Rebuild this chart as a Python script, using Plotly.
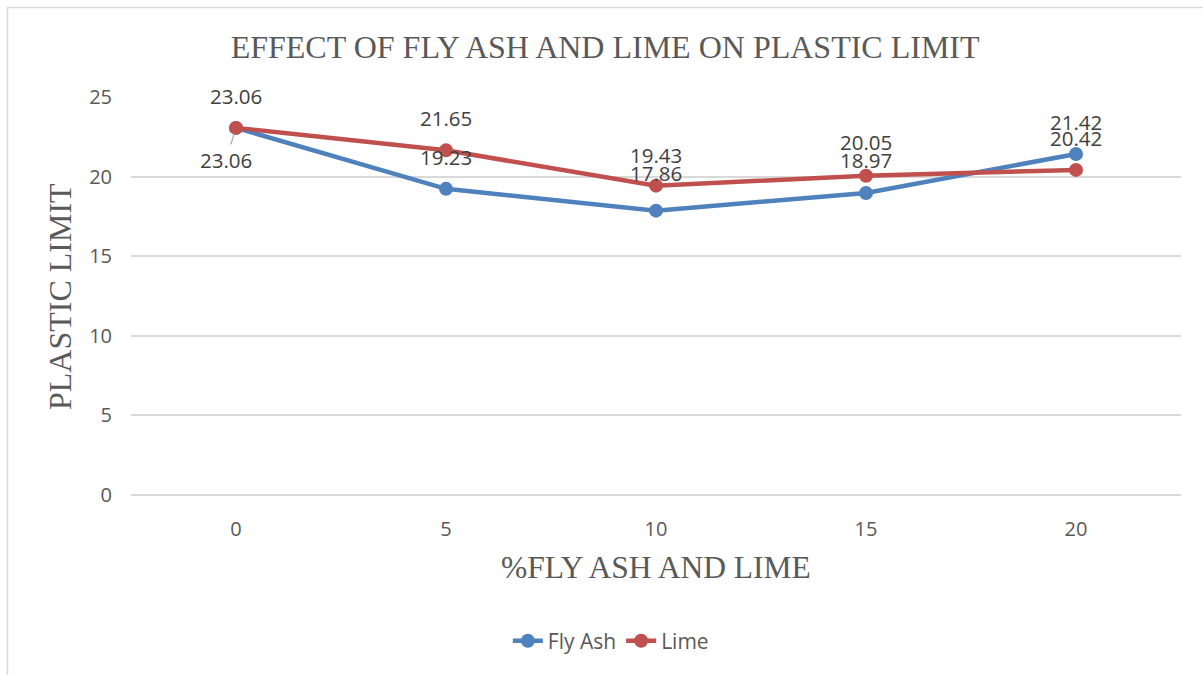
import plotly.graph_objects as go

# Percentage of additive (%)
additive_pct = [0, 5, 10, 15, 20]

# Plastic limit for each additive
fly_ash = [23.06, 19.23, 17.86, 18.97, 21.42]
lime = [23.06, 21.65, 19.43, 20.05, 20.42]

y_ticks = [0, 5, 10, 15, 20, 25]

BLUE = "#4F81BD"
RED = "#C0504D"
GRID = "#D9D9D9"
TICK_FONT = dict(family="Open Sans", size=20, color="#595959")
LABEL_FONT = dict(family="Open Sans", size=20.5, color="#404040")
SERIF = "Liberation Serif"

# Pixel offsets of each value label relative to its point (dx, dy; +dy = below)
fly_offsets = [(-10, 32), (0, -32), (0, -38), (0, -33), (0, -32)]
lime_offsets = [(0, -32), (0, -32), (0, -31), (0, -34), (0, -32)]

fig = go.Figure()
for name, vals, color in [("Fly Ash", fly_ash, BLUE), ("Lime", lime, RED)]:
    fig.add_trace(go.Scatter(
        x=additive_pct, y=vals, name=name, mode="lines+markers",
        line=dict(color=color, width=4.5),
        marker=dict(color=color, size=14),
    ))

annotations = []
for vals, offs in [(fly_ash, fly_offsets), (lime, lime_offsets)]:
    for x, v, (dx, dy) in zip(additive_pct, vals, offs):
        if dy > 0:
            # label placed below-left with a leader line back to the point
            annotations.append(dict(
                x=x, y=v, xref="x", yref="y", text=f"{v:.2f}",
                showarrow=True, arrowhead=0, arrowwidth=1.2,
                arrowcolor="#A6A6A6", ax=dx, ay=dy, standoff=6,
                font=LABEL_FONT,
            ))
        else:
            annotations.append(dict(
                x=x, y=v, xref="x", yref="y", text=f"{v:.2f}",
                showarrow=False, xshift=dx, yshift=-dy,
                font=LABEL_FONT,
            ))

# Axis titles
annotations.append(dict(
    text="%FLY ASH AND LIME", xref="paper", yref="paper",
    x=0.5, y=-0.1834, xanchor="center", yanchor="middle", showarrow=False,
    font=dict(family=SERIF, size=31.5, color="#595959"),
))
annotations.append(dict(
    text="PLASTIC LIMIT", xref="paper", yref="paper", textangle=-90,
    x=-0.0676, y=0.4975, xanchor="center", yanchor="middle", showarrow=False,
    font=dict(family=SERIF, size=32, color="#595959"),
))

fig.update_layout(
    width=1203, height=675, autosize=False,
    margin=dict(l=131, r=22, t=97, b=180),
    paper_bgcolor="white", plot_bgcolor="white",
    title=dict(
        text="EFFECT OF FLY ASH AND LIME ON PLASTIC LIMIT",
        x=0.503, y=0.930, xanchor="center", yanchor="middle",
        font=dict(family=SERIF, size=32, color="#595959"),
    ),
    xaxis=dict(
        range=[-2.5, 22.5], tickvals=additive_pct, showgrid=False,
        zeroline=False, showline=False, tickfont=TICK_FONT,
        ticklabelstandoff=20,
    ),
    yaxis=dict(
        range=[0, 25], tickvals=y_ticks, showgrid=True, gridcolor=GRID,
        gridwidth=1.5, zeroline=True, zerolinecolor=GRID, zerolinewidth=1.5,
        showline=False, tickfont=TICK_FONT, ticklabelstandoff=18,
    ),
    legend=dict(
        orientation="h", x=0.457, y=-0.367, xanchor="center", yanchor="middle",
        font=dict(family="Open Sans", size=21, color="#595959"),
        bgcolor="rgba(0,0,0,0)",
    ),
    annotations=annotations,
    shapes=[dict(
        type="rect", xref="paper", yref="paper",
        x0=-0.1176, x1=1.03, y0=-0.5, y1=1.2249,
        line=dict(color=GRID, width=1.5), fillcolor="rgba(0,0,0,0)",
        layer="below",
    )],
)

fig.write_html("out.html")
